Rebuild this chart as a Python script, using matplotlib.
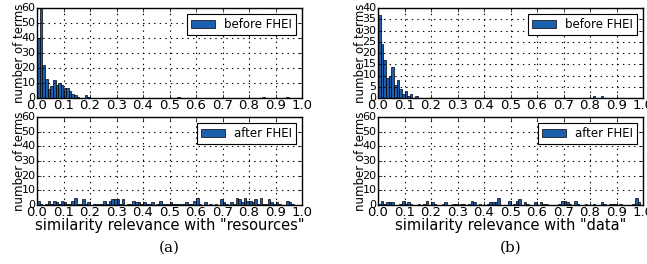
import numpy as np
import matplotlib
matplotlib.use("Agg")
import matplotlib.pyplot as plt

plt.style.use("classic")

# histogram counts, 100 bins of width 0.01 on [0, 1]
res_before = [40, 60, 22, 13, 6, 8, 12, 9, 10, 9,
              7, 7, 5, 3, 2, 1, 0, 0, 2, 1] + [0] * 80
res_before[53] = 1
res_before[85] = 1
res_before[94] = 1

res_after = [3, 1, 0, 1, 3, 1, 3, 2, 1, 3,
             2, 1, 1, 3, 5, 1, 1, 4, 1, 2,
             0, 1, 1, 1, 1, 3, 1, 3, 4, 4,
             4, 1, 4, 0, 1, 1, 3, 2, 2, 1,
             2, 1, 1, 2, 0, 1, 3, 1, 1, 1,
             2, 1, 1, 1, 1, 1, 2, 1, 1, 3,
             5, 1, 0, 2, 0, 1, 0, 1, 0, 4,
             2, 1, 0, 2, 1, 5, 4, 2, 5, 3,
             3, 2, 4, 1, 5, 1, 1, 4, 2, 1,
             2, 1, 0, 0, 3, 2, 1, 0, 0, 0]

data_before = [37, 24, 17, 9, 10, 14, 6, 8, 4, 2,
               3, 1, 2, 0, 1, 0] + [0] * 84
data_before[81] = 1
data_before[84] = 1

data_after = [1, 3, 1, 2, 2, 2, 0, 0, 1, 3,
              1, 2, 1, 0, 0, 1, 0, 1, 3, 0,
              2, 1, 0, 0, 1, 2, 0, 0, 1, 1,
              0, 1, 1, 0, 1, 3, 2, 0, 1, 0,
              0, 1, 2, 2, 2, 5, 0, 0, 0, 3,
              0, 1, 3, 4, 0, 2, 1, 0, 0, 2,
              0, 2, 1, 1, 0, 0, 0, 0, 1, 3,
              3, 2, 1, 0, 3, 1, 0, 0, 1, 0,
              0, 1, 0, 0, 2, 1, 0, 1, 1, 1,
              0, 1, 0, 0, 0, 0, 1, 5, 2, 0]

panels = [
    ("resources", res_before, res_after, 60, 10, "(a)"),
    ("data", data_before, data_after, 40, 5, "(b)"),
]

bar_color = "#1c5fae"
edges = np.linspace(0, 1, 101)

fig = plt.figure(figsize=(6.47, 2.64), dpi=100)
fig.patch.set_facecolor("white")

lefts = [37 / 647, 378 / 647]
w = 265 / 647
top_box = (1 - 98 / 264, 90 / 264)
bot_box = (1 - 205 / 264, 88 / 264)

for i, (word, before, after, ymax_top, step_top, tag) in enumerate(panels):
    for j, (counts, label, box, ymax, step) in enumerate([
            (before, "before FHEI", top_box, ymax_top, step_top),
            (after, "after FHEI", bot_box, 60, 10)]):
        ax = fig.add_axes([lefts[i], box[0], w, box[1]])
        ax.bar(edges[:-1], counts, width=0.01, align="edge",
               color=bar_color, edgecolor="black", linewidth=0.5,
               label=label)
        ax.set_xlim(0, 1)
        ax.set_ylim(0, ymax)
        ax.set_xticks(np.arange(0, 1.01, 0.1))
        ax.set_yticks(np.arange(0, ymax + 1, step))
        ax.tick_params(axis="x", labelsize=9.5, pad=1, length=3)
        ax.tick_params(axis="y", labelsize=8, pad=1, length=3)
        ax.grid(True, linestyle=":", color="black", linewidth=0.8)
        ax.set_ylabel("number of terms", fontsize=8.5, labelpad=-3)
        leg = ax.legend(loc="upper right", fontsize=8.5, handlelength=2,
                        borderpad=0.35, fancybox=False)
        leg.get_frame().set_linewidth(0.8)
        if j == 1:
            ax.set_xlabel('similarity relevance with "%s"' % word,
                          fontsize=10.5, labelpad=-1)
    fig.text(lefts[i] + w / 2, 1 - 248 / 264, tag, ha="center",
             va="center", fontsize=11, family="DejaVu Serif")

fig.savefig("out.png", dpi=100)
